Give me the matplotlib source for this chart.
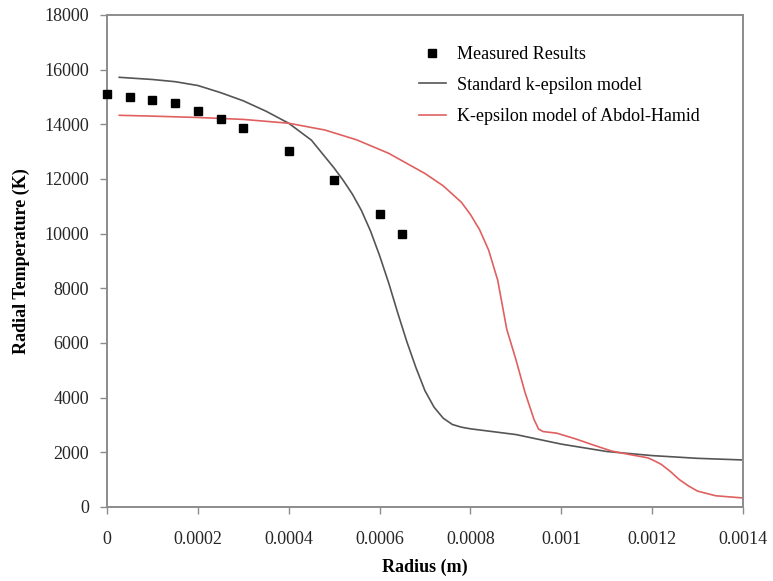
import numpy as np
import matplotlib.pyplot as plt

plt.rcParams['font.family'] = ['Liberation Serif', 'DejaVu Serif']

# measured points
meas_r = [0.0, 0.00005, 0.0001, 0.00015, 0.0002, 0.00025, 0.0003, 0.0004, 0.0005, 0.0006, 0.00065]
meas_T = [15100, 14990, 14890, 14770, 14500, 14200, 13860, 13030, 11950, 10710, 10000]

# standard k-epsilon model
std_r = [0.000027, 0.0001, 0.00015, 0.0002, 0.00025, 0.0003, 0.00035, 0.0004, 0.00045,
         0.0005, 0.00052, 0.00054, 0.00056, 0.00058, 0.0006, 0.00062, 0.00064, 0.00066,
         0.00068, 0.0007, 0.00072, 0.00074, 0.00076, 0.00078, 0.0008, 0.0009, 0.001,
         0.0011, 0.0012, 0.0013, 0.0014]
std_T = [15720, 15640, 15560, 15420, 15160, 14860, 14480, 14040, 13420,
         12400, 11950, 11450, 10850, 10100, 9200, 8200, 7100, 6050,
         5100, 4250, 3650, 3250, 3020, 2920, 2860, 2650, 2300,
         2030, 1880, 1780, 1720]

# k-epsilon model of Abdol-Hamid
ah_r = [0.000027, 0.0001, 0.0002, 0.0003, 0.0004, 0.00048, 0.00055, 0.00062, 0.0007,
        0.00074, 0.00078, 0.0008, 0.00082, 0.00084, 0.00086, 0.00088, 0.0009, 0.00092,
        0.00094, 0.00095, 0.00096, 0.00099, 0.00103, 0.00107, 0.00111, 0.00115, 0.00119,
        0.0012, 0.00122, 0.00124, 0.00126, 0.00128, 0.0013, 0.00134, 0.0014]
ah_T = [14330, 14300, 14250, 14180, 14040, 13790, 13430, 12940, 12200,
        11750, 11150, 10700, 10150, 9400, 8300, 6500, 5400, 4200,
        3200, 2850, 2760, 2700, 2500, 2270, 2050, 1920, 1800,
        1730, 1560, 1300, 1000, 770, 580, 410, 330]

fig = plt.figure(figsize=(7.73, 5.81), dpi=100)
ax = fig.add_axes([0.1384, 0.1274, 0.8228, 0.8468])

ax.plot(meas_r, meas_T, 's', color='black', markersize=6, label='Measured Results', clip_on=False, zorder=3)
ax.plot(std_r, std_T, color='#555555', lw=1.2, label='Standard k-epsilon model')
ax.plot(ah_r, ah_T, color='#e06060', lw=1.2, label='K-epsilon model of Abdol-Hamid')

ax.set_xlim(0, 0.0014)
ax.set_ylim(0, 18000)
ax.set_xticks([0, 0.0002, 0.0004, 0.0006, 0.0008, 0.001, 0.0012, 0.0014])
ax.set_xticklabels(['0', '0.0002', '0.0004', '0.0006', '0.0008', '0.001', '0.0012', '0.0014'])
ax.set_yticks(np.arange(0, 18001, 2000))

for s in ax.spines.values():
    s.set_color('#8c8c8c')
    s.set_linewidth(1.4)
ax.tick_params(direction='out', length=5, width=1, color='#8c8c8c', labelsize=13,
               labelcolor='#262626', pad=8)
ax.tick_params(axis='x', pad=12)

ax.set_xlabel('Radius (m)', fontsize=13, fontweight='bold', labelpad=8)
ax.set_ylabel('Radial Temperature (K)', fontsize=13, fontweight='bold', labelpad=10)

ax.legend(loc='upper left', bbox_to_anchor=(0.476, 0.955), frameon=False, fontsize=13,
          handlelength=1.5, labelspacing=0.75, borderpad=0, handletextpad=0.6)

fig.savefig('out.png', dpi=100)
